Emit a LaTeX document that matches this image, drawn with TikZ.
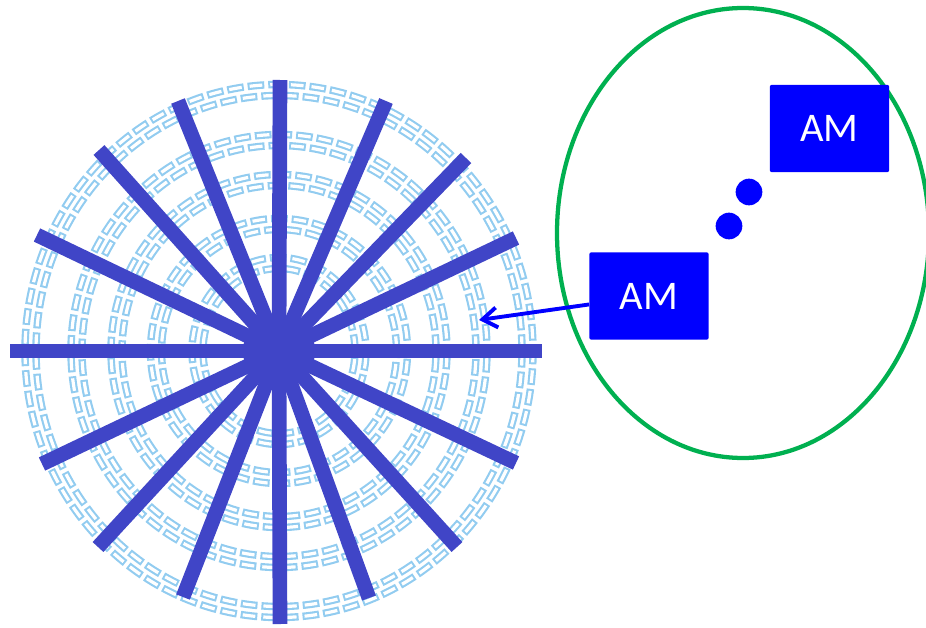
\documentclass[tikz,border=0pt]{standalone}
\usepackage{fontspec}
\setmainfont{Carlito}
\usetikzlibrary{arrows.meta,shapes.geometric}
\definecolor{spoke}{RGB}{64,69,199}
\definecolor{chain}{RGB}{146,204,240}
\definecolor{amblue}{RGB}{0,0,255}
\definecolor{ringgreen}{RGB}{0,176,80}
\begin{document}
\begin{tikzpicture}[x=0.75pt,y=-0.75pt,
  % chain links: a wide dashed stroke hollowed out by a shorter white dash
  linkbody/.style={draw=chain, line width=5.6pt, dash pattern=on 12.5pt off 3pt, dash phase=#1},
  linkhole/.style={draw=white, line width=2.4pt, dash pattern=on 9.5pt off 6pt, dash phase=#1},
  spokeline/.style={draw=spoke, line width=11pt},
  ambox/.style={fill=amblue, rounded corners=1.5pt, minimum width=89.5pt,
                minimum height=65.5pt, inner sep=0pt, text=white,
                font=\fontsize{30.5}{36}\selectfont},
  dotmark/.style={circle, fill=amblue, minimum size=20pt, inner sep=0pt},
  pointer/.style={draw=amblue, line width=2.9pt,
                  -{Straight Barb[length=11pt,width=15pt]}}
]
\useasboundingbox (0,0) rectangle (926,628);

% web: chain rings around the hub
\coordinate (hub) at (279,351);
\foreach \rx/\ry in {81.5/88, 123/127, 162.5/171, 202.5/211, 248.5/261}{
  \path[linkbody=0pt] (hub) ellipse [x radius={(\rx-5.5)*0.75pt}, y radius={(\ry-5.5)*0.75pt}];
  \path[linkhole=14pt] (hub) ellipse [x radius={(\rx-5.5)*0.75pt}, y radius={(\ry-5.5)*0.75pt}];
  \path[linkbody=7.75pt] (hub) ellipse [x radius={(\rx+5.5)*0.75pt}, y radius={(\ry+5.5)*0.75pt}];
  \path[linkhole=6.25pt] (hub) ellipse [x radius={(\rx+5.5)*0.75pt}, y radius={(\ry+5.5)*0.75pt}];
}

% web: spokes
\foreach \ex/\ey [count=\i] in {280/80, 386/101, 466/158, 516/238, 542/351,
    516/463, 457/547, 369/598, 280/624, 183/597, 98/547, 42/464,
    10/351, 37/235, 99/150, 178/101}{
  \coordinate (s\i) at (\ex,\ey);
  \draw[spokeline] (hub) -- (s\i);
}
\fill[spoke] (hub) circle (27pt);

% zoomed view
\node[draw=ringgreen, line width=3.2pt, ellipse, minimum width=279pt,
      minimum height=337.5pt, inner sep=0pt] (lens) at (743,233) {};
\node[ambox] (am1) at (829.5,128.5) {AM};
\node[ambox] (am2) at (649,296) {AM};
\node[dotmark] (d1) at (749,192) {};
\node[dotmark] (d2) at (729,226) {};

\coordinate (tip) at (479,320);
\draw[pointer] (am2) -- (tip);
\end{tikzpicture}
\end{document}
